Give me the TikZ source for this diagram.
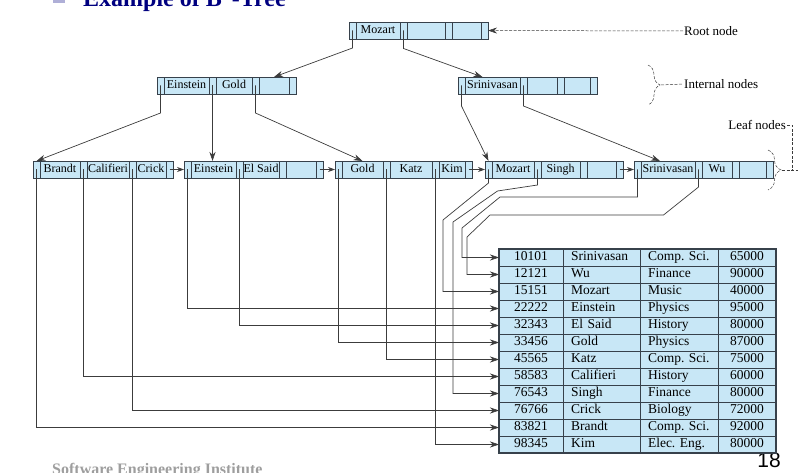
\documentclass[tikz,border=0pt]{standalone}
\usepackage{fontspec}
\setmainfont{Liberation Serif}
\newfontfamily\pagefont{Liberation Sans}
\usetikzlibrary{positioning, arrows.meta, decorations.pathreplacing}
\frenchspacing

\definecolor{cellblue}{RGB}{200,231,246}
\definecolor{cellline}{RGB}{55,65,75}
\definecolor{wiregray}{RGB}{60,60,60}
\definecolor{titleblue}{RGB}{0,0,128}
\definecolor{bulletblue}{RGB}{175,175,215}

\tikzset{
    cell/.style = {draw = cellline, fill = cellblue, minimum height = 17pt, inner sep = 0pt, outer sep = 0pt, anchor = west,
                   font = \fontsize{12}{12}\selectfont, text height = 8pt, text depth = 2pt},
    ptr/.style = {cell, minimum width = 7pt},
    key/.style = {cell, minimum width = #1},
    tcell/.style = {draw = cellline, fill = cellblue, minimum height = 17pt, inner sep = 0pt, outer sep = 0pt, anchor = west,
                    font = \fontsize{13.5}{13.5}\selectfont, text height = 9pt, text depth = 2.5pt, minimum width = #1},
    nmcell/.style = {tcell = 77pt, text width = 61pt, inner xsep = 8pt, align = left},
    dpcell/.style = {tcell = 78pt, text width = 62pt, inner xsep = 8pt, align = left},
    wire/.style = {draw = wiregray, line width = 0.7pt, -{Stealth[length = 9pt, width = 6pt]}},
    link/.style = {wire, -{Stealth[length = 7pt, width = 5pt]}},
    lead/.style = {draw = wiregray, line width = 0.5pt, dash pattern = on 3pt off 1.5pt},
    lbl/.style = {font = \fontsize{13}{13}\selectfont, inner sep = 1pt}
}

\begin{document}
\begin{tikzpicture}[x = 1pt, y = -1pt]
    \useasboundingbox (0, 0) rectangle (805, 473);

    % slide title and footer
    \fill[bulletblue] (53, -9) rectangle (65, 3);
    \node[anchor = base west, inner sep = 0pt, text = titleblue, font = \bfseries\fontsize{24}{24}\selectfont] (title) at (83, 6.5) {Example of B\textsuperscript{+}-Tree};
    \node[anchor = base west, inner sep = 0pt, text = black!38, font = \bfseries\fontsize{16}{16}\selectfont] (footer) at (52, 474) {Software Engineering Institute};
    \node[anchor = base, inner sep = 0pt, font = \pagefont\fontsize{21}{21}\selectfont] (pagenum) at (769, 467) {18};

    % tree nodes
    \foreach \nm/\x/\y/\wa/\ta/\wb/\tb/\wc/\tc in {
        root/349/30.5/44/Mozart/38/{}/29/{},
        int1/157/85.5/45/Einstein/36/Gold/30/{},
        int2/458/85.5/55/Srinivasan/30/{}/26/{},
        leaf1/33/169.5/40/Brandt/42/Califieri/30/Crick,
        leaf2/184/169.5/45/Einstein/36/El Said/30/{},
        leaf3/335/169.5/41/Gold/42/Katz/26/Kim,
        leaf4/485/169.5/42/Mozart/39/Singh/29/{},
        leaf5/634/169.5/54/Srinivasan/30/Wu/27/{}}
    {
        \node[ptr] (\nm-p1) at (\x, \y) {};
        \node[key = \wa pt, right = 0pt of \nm-p1] (\nm-k1) {\ta};
        \node[ptr, right = 0pt of \nm-k1] (\nm-p2) {};
        \node[key = \wb pt, right = 0pt of \nm-p2] (\nm-k2) {\tb};
        \node[ptr, right = 0pt of \nm-k2] (\nm-p3) {};
        \node[key = \wc pt, right = 0pt of \nm-p3] (\nm-k3) {\tc};
        \node[ptr, right = 0pt of \nm-k3] (\nm-p4) {};
    }

    % records
    \foreach \i/\rid/\rname/\rdept/\rsal in {
        1/10101/Srinivasan/Comp. Sci./65000,
        2/12121/Wu/Finance/90000,
        3/15151/Mozart/Music/40000,
        4/22222/Einstein/Physics/95000,
        5/32343/El Said/History/80000,
        6/33456/Gold/Physics/87000,
        7/45565/Katz/Comp. Sci./75000,
        8/58583/Califieri/History/60000,
        9/76543/Singh/Finance/80000,
        10/76766/Crick/Biology/72000,
        11/83821/Brandt/Comp. Sci./92000,
        12/98345/Kim/Elec. Eng./80000}
    {
        \node[tcell = 64pt] (id-\i) at (499, 240.5 + 17*\i) {\rid};
        \node[nmcell, right = 0pt of id-\i] (nm-\i) {\rname};
        \node[dpcell, right = 0pt of nm-\i] (dp-\i) {\rdept};
        \node[tcell = 58pt, right = 0pt of dp-\i] (sal-\i) {\rsal};
    }
    \draw[cellline, line width = 1.2pt] (id-1.north west) rectangle (sal-12.south east);

    % root to internal nodes
    \draw[wire] (root-p1.center) -- ++(0, 17.5) -- (int1-k3.north);
    \draw[wire] (root-p2.center) -- ++(0, 18) -- ([xshift = -10pt]int2-k1.north);

    % internal nodes to leaves
    \draw[wire] (int1-p1.center) -- ++(0, 27.5) -- (leaf1-p1.north);
    \draw[wire] (int1-p2.center) -- (int1-p2.center |- leaf2-k1.north);
    \draw[wire] (int1-p3.center) -- ++(0, 27.5) -- (leaf3-k1.north);
    \draw[wire] (int2-p1.center) -- ++(0, 20.5) -- (leaf4-p1.north);
    \draw[wire] (int2-p2.center) -- ++(0, 20.5) -- ([xshift = -8pt]leaf5-k1.north);

    % leaf chain
    \draw[link] (leaf1-p4.center) -- (leaf2-p1.west);
    \draw[link] (leaf2-p4.center) -- (leaf3-p1.west);
    \draw[link] (leaf3-p4.center) -- (leaf4-p1.west);
    \draw[link] (leaf4-p4.center) -- (leaf5-p1.west);

    % leaves to records
    \draw[wire] (leaf1-p1.center) |- (id-11.west);
    \draw[wire] (leaf1-p2.center) |- (id-8.west);
    \draw[wire] (leaf1-p3.center) |- (id-10.west);
    \draw[wire] (leaf2-p1.center) |- (id-4.west);
    \draw[wire] (leaf2-p2.center) |- (id-5.west);
    \draw[wire] (leaf3-p1.center) |- (id-6.west);
    \draw[wire] (leaf3-p2.center) |- (id-7.west);
    \draw[wire] (leaf3-p3.center) |- (id-12.west);
    \draw[wire] (leaf4-p1.center) -- ++(0, 13.5) -- ++(-45.5, 37) |- (id-3.west);
    \draw[wire] (leaf4-p2.center) -- ++(0, 15.5) -- ++(-40, 6) -- ++(-44.5, 31) |- (id-9.west);
    \draw[wire] (leaf5-p1.center) -- ++(0, 27.5) -- ++(-137.5, 0) -- ++(-38, 31) |- (id-1.west);
    \draw[wire] (leaf5-p2.center) -- ++(0, 17.5) -- ++(-35, 28) -- ++(-173.5, 0) -- ++(-23, 22) |- (id-2.west);

    % labels
    \node[lbl, anchor = west] (rootlbl) at (683, 31) {Root node};
    \draw[lead, -{Stealth[length = 9pt, width = 6pt]}] (rootlbl.west) -- (root-p4.east);

    \draw[lead, decorate, decoration = {brace, amplitude = 12pt}] (648, 65) -- (648, 105);
    \coordinate (intbr) at (661, 85);
    \node[lbl, anchor = west] (intlbl) at (683, 84) {Internal nodes};
    \draw[lead] (intbr) -- (intlbl.west);

    \draw[lead, decorate, decoration = {brace, amplitude = 13pt}] (768, 150) -- (768, 190);
    \coordinate (leafbr) at (782, 170);
    \node[lbl, anchor = east] (leaflbl) at (787, 125) {Leaf nodes};
    \draw[lead] (leafbr) -- ++(16, 0);
    \draw[lead] (leaflbl.east) -| ([xshift = 10pt]leafbr);
\end{tikzpicture}
\end{document}
